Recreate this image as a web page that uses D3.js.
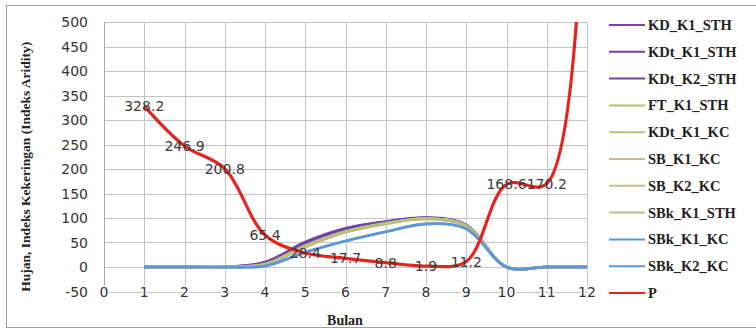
<!DOCTYPE html>
<html>
<head>
<meta charset="utf-8">
<script src="https://cdn.jsdelivr.net/npm/d3@7"></script>
<style>
  body { margin: 0; background: #fff; }
  #chart { width: 756px; height: 330px; }
</style>
</head>
<body>
<div id="chart"></div>
<script>
const months = [1, 2, 3, 4, 5, 6, 7, 8, 9, 10, 11, 12];
const xTicks = [0, 1, 2, 3, 4, 5, 6, 7, 8, 9, 10, 11, 12];
const yTicks = [-50, 0, 50, 100, 150, 200, 250, 300, 350, 400, 450, 500];

const seriesNames = ["KD_K1_STH", "KDt_K1_STH", "KDt_K2_STH", "FT_K1_STH", "KDt_K1_KC",
  "SB_K1_KC", "SB_K2_KC", "SBk_K1_STH", "SBk_K1_KC", "SBk_K2_KC", "P"];
const seriesColors = ["#7a3fa0", "#7440a6", "#6f44aa", "#a9c46c", "#b4c07c",
  "#bfbf88", "#c2c08c", "#b9c07e", "#5b95d6", "#5d97d8", "#e8231f"];

const KD_K1_STH = [0, 0, 0, 10, 51, 79, 93, 101, 86, 0, 0, 0];
const KDt_K1_STH = [0, 0, 0, 9, 49, 78, 92, 100, 85, 0, 0, 0];
const KDt_K2_STH = [0, 0, 0, 9, 48, 77, 92, 100, 85, 0, 0, 0];
const FT_K1_STH = [0, 0, 0, 6, 44, 73, 89, 99, 84, 0, 0, 0];
const KDt_K1_KC = [0, 0, 0, 5, 42, 72, 89, 99, 84, 0, 0, 0];
const SB_K1_KC = [0, 0, 0, 5, 41, 71, 88, 98, 83, 0, 0, 0];
const SB_K2_KC = [0, 0, 0, 5, 41, 71, 88, 98, 83, 0, 0, 0];
const SBk_K1_STH = [0, 0, 0, 6, 43, 72, 89, 99, 84, 0, 0, 0];
const SBk_K1_KC = [0, 0, 0, 2, 30, 53, 72, 88, 78, 0, 0, 0];
const SBk_K2_KC = [0, 0, 0, 2, 30, 53, 72, 88, 78, 0, 0, 0];
const P = [328.2, 246.9, 200.8, 65.4, 28.4, 17.7, 8.8, 1.9, 11.2, 168.6, 170.2, 1100];
// labels shown on the P line (the last point runs off the top)
const pLabels = ["328.2", "246.9", "200.8", "65.4", "28.4", "17.7", "8.8", "1.9", "11.2", "168.6", "170.2", null];

const seriesValues = [KD_K1_STH, KDt_K1_STH, KDt_K2_STH, FT_K1_STH, KDt_K1_KC,
  SB_K1_KC, SB_K2_KC, SBk_K1_STH, SBk_K1_KC, SBk_K2_KC, P];

const width = 756, height = 330;
const margin = { left: 104, right: 169, top: 22, bottom: 38.5 };
const innerW = width - margin.left - margin.right;
const innerH = height - margin.top - margin.bottom;

const svg = d3.select("#chart").append("svg")
  .attr("width", width)
  .attr("height", height);

// outer frame
svg.append("rect")
  .attr("x", 6.5).attr("y", 5.5)
  .attr("width", 770).attr("height", 322)
  .attr("fill", "#fff")
  .attr("stroke", "#a0a0a0");

const x = d3.scaleLinear().domain([0, 12]).range([0, innerW]);
const y = d3.scaleLinear().domain([-50, 500]).range([innerH, 0]);

const g = svg.append("g").attr("transform", `translate(${margin.left},${margin.top})`);

g.append("clipPath").attr("id", "plotclip")
  .append("rect").attr("x", -2).attr("y", 0).attr("width", innerW + 4).attr("height", innerH);

// grid
g.append("g")
  .selectAll("line").data(yTicks).join("line")
  .attr("x1", 0).attr("x2", innerW)
  .attr("y1", d => Math.round(y(d)) + 0.5).attr("y2", d => Math.round(y(d)) + 0.5)
  .attr("stroke", "#c4c4c4");
g.append("g")
  .selectAll("line").data(xTicks).join("line")
  .attr("y1", 0).attr("y2", innerH)
  .attr("x1", d => Math.round(x(d)) + 0.5).attr("x2", d => Math.round(x(d)) + 0.5)
  .attr("stroke", d => d === 0 ? "#a8a8a8" : "#c4c4c4");

// tick labels
g.append("g")
  .selectAll("text").data(yTicks).join("text")
  .attr("x", -16).attr("y", d => y(d))
  .attr("dy", "0.36em")
  .attr("text-anchor", "end")
  .attr("font-family", "DejaVu Sans")
  .attr("font-size", 14)
  .attr("fill", "#333")
  .text(d => d);
g.append("g")
  .selectAll("text").data(xTicks).join("text")
  .attr("x", d => x(d)).attr("y", innerH)
  .attr("dy", "0.36em")
  .attr("text-anchor", "middle")
  .attr("font-family", "DejaVu Sans")
  .attr("font-size", 14)
  .attr("fill", "#333")
  .attr("stroke", "#fff").attr("stroke-width", 3).attr("paint-order", "stroke")
  .text(d => d);

// series lines, smoothed
const line = d3.line()
  .x((d, i) => x(months[i]))
  .y(d => y(d))
  .curve(d3.curveCatmullRom.alpha(0.5));

const lines = g.append("g").attr("clip-path", "url(#plotclip)");
seriesValues.forEach((vals, i) => {
  lines.append("path")
    .datum(vals)
    .attr("d", line)
    .attr("fill", "none")
    .attr("stroke", seriesColors[i])
    .attr("stroke-width", i === seriesValues.length - 1 ? 3.2 : 2.6)
    .attr("stroke-linejoin", "round");
});

// data labels on P
g.append("g")
  .selectAll("text").data(months.filter((m, i) => pLabels[i] !== null)).join("text")
  .attr("x", d => x(d)).attr("y", (d, i) => y(P[i]))
  .attr("dy", "0.36em")
  .attr("text-anchor", "middle")
  .attr("font-family", "DejaVu Sans")
  .attr("font-size", 14)
  .attr("fill", "#3a3a3a")
  .text((d, i) => pLabels[i]);

// axis titles
svg.append("text")
  .attr("transform", `translate(30,${margin.top + innerH / 2 + 10}) rotate(-90)`)
  .attr("text-anchor", "middle")
  .attr("font-family", "Liberation Serif")
  .attr("font-weight", "bold")
  .attr("font-size", 13.5)
  .attr("fill", "#222")
  .text("Hujan, Indeks Kekeringan (Indeks Aridity)");
svg.append("text")
  .attr("x", 345).attr("y", 325)
  .attr("text-anchor", "middle")
  .attr("font-family", "Liberation Serif")
  .attr("font-weight", "bold")
  .attr("font-size", 14)
  .attr("fill", "#222")
  .text("Bulan");

// legend
const legend = svg.append("g").attr("transform", "translate(609,25)");
const items = legend.selectAll("g").data(seriesNames).join("g")
  .attr("transform", (d, i) => `translate(0,${i * 26.8})`);
items.append("line")
  .attr("x1", 0).attr("x2", 36)
  .attr("stroke", (d, i) => seriesColors[i])
  .attr("stroke-width", 2);
items.append("text")
  .attr("x", 39).attr("dy", "0.34em")
  .attr("font-family", "Liberation Serif")
  .attr("font-weight", "bold")
  .attr("font-size", 14.5)
  .attr("fill", "#222")
  .text(d => d);
</script>
</body>
</html>
